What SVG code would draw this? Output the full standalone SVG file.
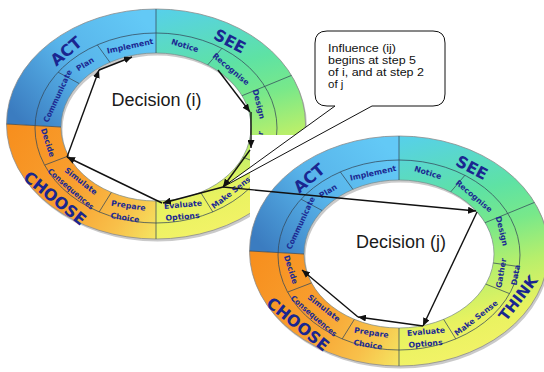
<svg xmlns="http://www.w3.org/2000/svg" xmlns:xlink="http://www.w3.org/1999/xlink" width="544" height="372" viewBox="0 0 544 372">
<style>
.step{font-family:"DejaVu Sans",sans-serif;font-weight:bold;font-size:7.8px;fill:#1c2a92;text-anchor:middle}
.phase{font-family:"DejaVu Sans",sans-serif;font-weight:bold;font-size:16px;fill:#1a2690;text-anchor:middle}
.title{font-family:"Liberation Sans",Arial,sans-serif;font-size:18px;fill:#1a1a1a;text-anchor:middle}
.note{font-family:"Liberation Sans",Arial,sans-serif;font-size:11.5px;fill:#111}
.div{stroke:#34485a;stroke-width:0.75;fill:none}
.ring{fill-rule:evenodd}
.conn{stroke:#111;stroke-width:1.4;fill:none;marker-end:url(#ah)}
</style>
<defs>
<marker id="ah" markerUnits="userSpaceOnUse" markerWidth="9" markerHeight="7" refX="8" refY="3.5" orient="auto">
<path d="M0,0 L8,3.5 L0,7 z" fill="#111"/>
</marker>
<linearGradient id="gTL" gradientUnits="userSpaceOnUse" x1="-20" y1="-115" x2="-140" y2="-10">
<stop offset="0" stop-color="#63c9f6"/><stop offset="0.5" stop-color="#58b4ea"/><stop offset="1" stop-color="#3b7cc0"/>
</linearGradient>
<linearGradient id="gBL" gradientUnits="userSpaceOnUse" x1="-150" y1="10" x2="10" y2="110">
<stop offset="0" stop-color="#f78f1e"/><stop offset="0.45" stop-color="#f8a030"/><stop offset="0.75" stop-color="#f8c04a"/><stop offset="1" stop-color="#f4ec66"/>
</linearGradient>
<linearGradient id="gR" gradientUnits="userSpaceOnUse" x1="0" y1="-120" x2="60" y2="120">
<stop offset="0" stop-color="#56cfee"/><stop offset="0.3" stop-color="#5ee2a4"/><stop offset="0.45" stop-color="#78e88a"/><stop offset="0.62" stop-color="#b6ef6c"/><stop offset="0.8" stop-color="#e8f260"/><stop offset="1" stop-color="#f6f36a"/>
</linearGradient>
<clipPath id="cTL" clipPathUnits="userSpaceOnUse"><polygon points="0,-130 -160,-130 -160,-2.6 -95,1 0,1"/></clipPath>
<clipPath id="cBL" clipPathUnits="userSpaceOnUse"><polygon points="0,130 -160,130 -160,-2.6 -95,1 0,1"/></clipPath>
<clipPath id="cR" clipPathUnits="userSpaceOnUse"><rect x="0" y="-130" width="160" height="260"/></clipPath>
<path id="ringShape" class="ring" d="M-149.5,-2a149.5,115 0 1,0 299,0a149.5,115 0 1,0 -299,0ZM-95,1a95,74 0 1,0 190,0a95,74 0 1,0 -190,0Z"/>
<g id="ringBody">
<use xlink:href="#ringShape" href="#ringShape" fill="#8a8a8a" opacity="0.45" transform="translate(1.5,2.5)"/>
<use xlink:href="#ringShape" href="#ringShape" fill="url(#gR)" clip-path="url(#cR)"/>
<use xlink:href="#ringShape" href="#ringShape" fill="url(#gTL)" clip-path="url(#cTL)"/>
<use xlink:href="#ringShape" href="#ringShape" fill="url(#gBL)" clip-path="url(#cBL)"/>
<ellipse cx="0" cy="-2" rx="149.5" ry="115" fill="none" stroke="#8c8c8c" stroke-width="0.8"/>
<ellipse class="div" cx="0" cy="2" rx="121" ry="95"/>
<ellipse cx="0" cy="1" rx="95" ry="74" fill="none" stroke="#7a8a8a" stroke-width="0.7"/>
<path class="div" d="M0,-73V-117M0,75V113M-95,1L-149.5,-2M86.1,-30.3L135.5,-50.6M51.7,-61.1L65.9,-77.7M94.3,10L120.1,13.6M86.8,31.1L110.5,40.6M44.6,66.3L56.8,85.9M-44.6,66.3L-56.8,85.9M-87.4,29.9L-111.4,39.1M-76.9,-42.5L-97.9,-53.8M-46.1,-63.7L-58.7,-81.1"/>
</g>
</defs>

<rect width="544" height="372" fill="#ffffff"/>

<g id="ring-i" transform="translate(156,126)">
<use xlink:href="#ringBody" href="#ringBody"/>
<text class="phase" transform="translate(-90,-75) rotate(-40)" dy="5.8">ACT</text>
<text class="phase" transform="translate(74,-85) rotate(28)" dy="5.8">SEE</text>
<text class="phase" transform="translate(-101,72) rotate(39)" dy="5.8">CHOOSE</text>
<text class="step" transform="translate(-26,-80) rotate(-12)" dy="2.8">Implement</text>
<text class="step" transform="translate(29,-80.5) rotate(17)" dy="2.8">Notice</text>
<text class="step" transform="translate(75,-57) rotate(40)" dy="2.8">Recognise</text>
<text class="step" transform="translate(103,-22) rotate(76)" dy="2.8">Design</text>
<text class="step" transform="translate(102,20) rotate(-80)" dy="2.8">Gather</text>
<text class="step" transform="translate(77,65) rotate(-38)" dy="2.8">Make Sense</text>
<text class="step" transform="translate(27,78.5) rotate(-5)" dy="2.8">Evaluate</text>
<text class="step" transform="translate(26.5,90.5) rotate(-5)" dy="2.8">Options</text>
<text class="step" transform="translate(-27.5,79.5) rotate(8.5)" dy="2.8">Prepare</text>
<text class="step" transform="translate(-31,91.5) rotate(8.5)" dy="2.8">Choice</text>
<text class="step" transform="translate(-75,55) rotate(38)" dy="2.8">Simulate</text>
<text class="step" transform="translate(-85,63) rotate(41)" dy="2.8" textLength="58" lengthAdjust="spacingAndGlyphs">Consequences</text>
<text class="step" transform="translate(-108,16.5) rotate(72)" dy="2.8">Decide</text>
<text class="step" transform="translate(-98.5,-30) rotate(-65)" dy="2.8" textLength="57" lengthAdjust="spacingAndGlyphs">Communicate</text>
<text class="step" transform="translate(-71,-62) rotate(-32)" dy="2.8">Plan</text>
<text class="title" x="0.5" y="-20">Decision (i)</text>
</g>

<g id="ring-j">
<rect x="250" y="135" width="294" height="237" fill="#ffffff"/>
<g transform="translate(399,253)">
<use xlink:href="#ringBody" href="#ringBody"/>
<text class="phase" transform="translate(-90,-75) rotate(-40)" dy="5.8">ACT</text>
<text class="phase" transform="translate(73,-85.5) rotate(28)" dy="5.8">SEE</text>
<text class="phase" transform="translate(-101,71) rotate(39)" dy="5.8">CHOOSE</text>
<text class="phase" transform="translate(119,45) rotate(-52)" dy="5.4" style="font-size:15px">THINK</text>
<text class="step" transform="translate(-26,-80) rotate(-12)" dy="2.8">Implement</text>
<text class="step" transform="translate(29,-80.5) rotate(17)" dy="2.8">Notice</text>
<text class="step" transform="translate(75,-57) rotate(40)" dy="2.8">Recognise</text>
<text class="step" transform="translate(103,-22) rotate(76)" dy="2.8">Design</text>
<text class="step" transform="translate(102,20) rotate(-80)" dy="2.8">Gather</text>
<text class="step" transform="translate(116.5,22) rotate(-80)" dy="2.8">Data</text>
<text class="step" transform="translate(77,65) rotate(-38)" dy="2.8">Make Sense</text>
<text class="step" transform="translate(27,78.5) rotate(-5)" dy="2.8">Evaluate</text>
<text class="step" transform="translate(26.5,90.5) rotate(-5)" dy="2.8">Options</text>
<text class="step" transform="translate(-27.5,79.5) rotate(8.5)" dy="2.8">Prepare</text>
<text class="step" transform="translate(-31,91.5) rotate(8.5)" dy="2.8">Choice</text>
<text class="step" transform="translate(-75,55) rotate(38)" dy="2.8">Simulate</text>
<text class="step" transform="translate(-85,63) rotate(41)" dy="2.8" textLength="58" lengthAdjust="spacingAndGlyphs">Consequences</text>
<text class="step" transform="translate(-108,16.5) rotate(72)" dy="2.8">Decide</text>
<text class="step" transform="translate(-98.5,-30) rotate(-65)" dy="2.8" textLength="57" lengthAdjust="spacingAndGlyphs">Communicate</text>
<text class="step" transform="translate(-71,-62) rotate(-32)" dy="2.8">Plan</text>
<text class="title" x="2" y="-5">Decision (j)</text>
</g>
</g>

<g id="callout">
<path d="M327,31 H433 Q445,31 445,43 V94 Q445,106 433,106 H372 L223,187 L335,106 H327 Q315,106 315,94 V43 Q315,31 327,31 Z" fill="#ffffff" stroke="#111" stroke-width="1"/>
<text class="note" x="328" y="51.5" textLength="68" lengthAdjust="spacingAndGlyphs">Influence (ij)</text>
<text class="note" x="328" y="63.5" textLength="88" lengthAdjust="spacingAndGlyphs">begins at step 5</text>
<text class="note" x="328" y="75.5" textLength="96" lengthAdjust="spacingAndGlyphs">of i, and at step 2</text>
<text class="note" x="328" y="87.5">of j</text>
</g>

<g id="connectors">
<path class="conn" d="M218,70 L250,112"/>
<path class="conn" d="M251,112 L251,148"/>
<path class="conn" d="M250,150 L223,187"/>
<path class="conn" d="M223,187 L163,203"/>
<path class="conn" d="M162,203 L67,157"/>
<path class="conn" d="M67,157 L99,70"/>
<path class="conn" d="M99,70 L132,57"/>
<path class="conn" d="M223,187 L476,211"/>
<path class="conn" d="M477,212 L423,326"/>
<path class="conn" d="M423,326 L358,317"/>
<path class="conn" d="M358,317 L302,270"/>
</g>
</svg>
